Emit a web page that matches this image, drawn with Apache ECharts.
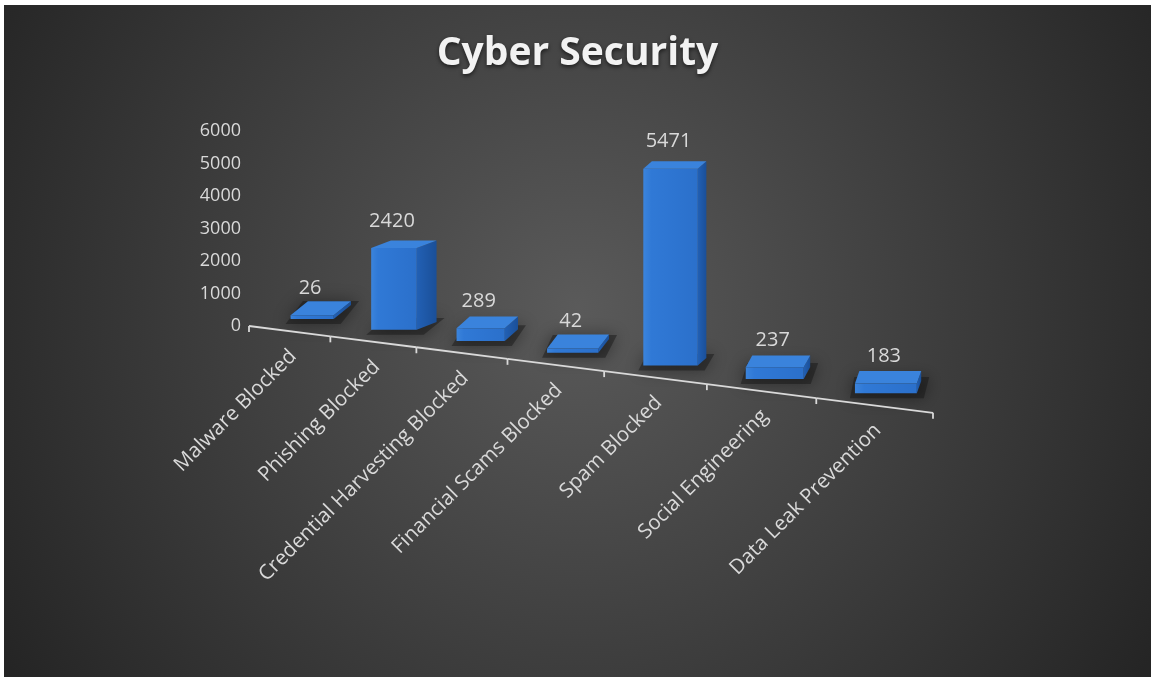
<!DOCTYPE html>
<html>
<head>
<meta charset="utf-8">
<script src="https://cdn.jsdelivr.net/npm/echarts@6/dist/echarts.min.js"></script>
<style>
  html, body { margin: 0; padding: 0; background: #ffffff; }
  #chart { position: absolute; left: 4px; top: 5px; width: 1147px; height: 672px; }
</style>
</head>
<body>
<div id="chart"></div>
<script>
// chart data
const categories = [
  'Malware Blocked',
  'Phishing Blocked',
  'Credential Harvesting Blocked',
  'Financial Scams Blocked',
  'Spam Blocked',
  'Social Engineering',
  'Data Leak Prevention'
];
const blocked = [26, 2420, 289, 42, 5471, 237, 183];
const yMax = 6000;
const yStep = 1000;

// look of the fake 3d floor
const PERSP = 0.19;        // how much the far end is squeezed
const FLOOR_SLOPE = 0.127; // baseline drops to the right
const TEXT = '#d9d9d9';
const FONT = '"Open Sans", sans-serif';

const chart = echarts.init(document.getElementById('chart'));

// position along the slanted category axis, t in [0, n]
function project(api, t) {
  const n = categories.length;
  const p0 = api.coord([0, 0]);
  const pn = api.coord([n, 0]);
  const u = t / n;
  const x = p0[0] + (pn[0] - p0[0]) * (1 - PERSP) * u / (1 - PERSP * u);
  const y = p0[1] + FLOOR_SLOPE * (x - p0[0]);
  return [x, y];
}

function renderBar(params, api) {
  const i = api.value(0);
  const v = api.value(1);
  const a = project(api, i);
  const b = project(api, i + 1);
  const c = project(api, i + 0.5);
  const w = (b[0] - a[0]) * 0.53;
  const left = c[0] - w / 2 + (23 - 1.8 * i);
  const bottom = c[1] - 12;
  const h = api.size([0, v])[1] * (0.97 + 0.03 * i) + 3;
  const top = bottom - h;
  const dx = 17 - 2.1 * i + 0.03 * h * Math.max(0, 3 - i);
  const dy = -(7.5 + 8 * Math.exp(-h / 20));
  const right = left + w;

  return {
    type: 'group',
    children: [
      // soft floor shadow
      {
        type: 'polygon',
        shape: { points: [[left - 5, bottom + 5], [right + 7, bottom + 5], [right + dx + 8, bottom + dy - 4], [left + dx - 5, bottom + dy - 4]] },
        style: { fill: 'rgba(20,20,20,0.45)', shadowBlur: 16, shadowColor: 'rgba(0,0,0,0.85)' }
      },
      {
        type: 'polygon',
        shape: { points: [[right, bottom], [right + dx, bottom + dy], [right + dx, top + dy], [right, top]] },
        style: {
          fill: new echarts.graphic.LinearGradient(0, 0, 1, 0, [
            { offset: 0, color: '#2260b4' },
            { offset: 1, color: '#1a4f98' }
          ])
        }
      },
      {
        type: 'polygon',
        shape: { points: [[left, bottom], [right, bottom], [right, top], [left, top]] },
        style: {
          fill: new echarts.graphic.LinearGradient(0, 0, 1, 0, [
            { offset: 0, color: '#3b84dc' },
            { offset: 0.15, color: '#3079d6' },
            { offset: 1, color: '#2b70cb' }
          ])
        }
      },
      {
        type: 'polygon',
        shape: { points: [[left, top], [right, top], [right + dx, top + dy], [left + dx, top + dy]] },
        style: { fill: '#3a83dc' }
      },
      {
        type: 'text',
        x: left + w / 2 - 2,
        y: top - 27,
        style: {
          text: String(v),
          align: 'center',
          verticalAlign: 'middle',
          fill: TEXT,
          font: '20px ' + FONT
        }
      }
    ]
  };
}

function renderAxis(params, api) {
  const i = api.value(0);
  const n = categories.length;
  const a = project(api, i);
  const b = project(api, i + 1);
  const c = project(api, i + 0.5);
  const lineStyle = { stroke: TEXT, lineWidth: 1.8 };
  const children = [
    { type: 'line', shape: { x1: a[0], y1: a[1], x2: b[0], y2: b[1] }, style: lineStyle },
    { type: 'line', shape: { x1: a[0], y1: a[1], x2: a[0], y2: a[1] + 6 }, style: lineStyle }
  ];
  if (i === n - 1) {
    children.push({ type: 'line', shape: { x1: b[0], y1: b[1], x2: b[0], y2: b[1] + 6 }, style: lineStyle });
  }
  children.push({
    type: 'text',
    x: c[0] + 4,
    y: c[1] + 22,
    rotation: Math.PI / 4,
    style: {
      text: categories[i],
      align: 'right',
      verticalAlign: 'middle',
      fill: TEXT,
      font: '20.5px ' + FONT
    }
  });
  return { type: 'group', children: children };
}

const seriesData = blocked.map((v, i) => [i, v]);

chart.setOption({
  backgroundColor: {
    type: 'radial',
    x: 0.5,
    y: 0.45,
    r: 1,
    colorStops: [
      { offset: 0, color: '#5a5a5a' },
      { offset: 1, color: '#252525' }
    ]
  },
  title: {
    text: 'Cyber Security',
    left: 'center',
    top: 24,
    textStyle: {
      fontFamily: FONT,
      fontWeight: 'bold',
      fontSize: 39,
      color: '#f2f2f2',
      textShadowColor: 'rgba(0,0,0,0.6)',
      textShadowBlur: 4,
      textShadowOffsetY: 2
    }
  },
  grid: { left: 245, right: 218, top: 126, bottom: 351 },
  xAxis: { type: 'value', min: 0, max: categories.length, show: false },
  yAxis: {
    type: 'value',
    min: 0,
    max: yMax,
    interval: yStep,
    axisLine: { show: false },
    axisTick: { show: false },
    splitLine: { show: false },
    axisLabel: {
      color: TEXT,
      fontFamily: FONT,
      fontSize: 18,
      margin: 8,
      formatter: (val) => String(val)
    }
  },
  series: [
    {
      type: 'custom',
      renderItem: renderBar,
      data: seriesData,
      clip: false,
      z: 2
    },
    {
      type: 'custom',
      renderItem: renderAxis,
      data: seriesData,
      clip: false,
      z: 3
    }
  ]
});
</script>
</body>
</html>
